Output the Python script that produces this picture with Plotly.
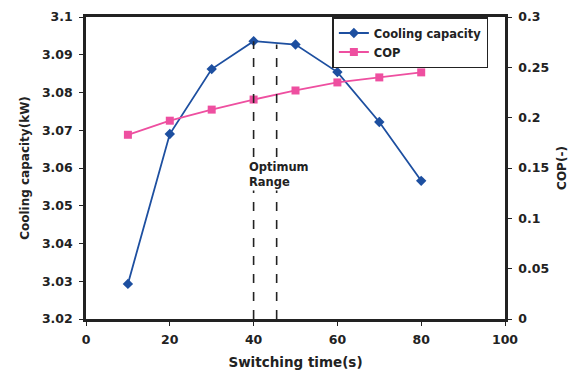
import plotly.graph_objects as go

switching_time = [10, 20, 30, 40, 50, 60, 70, 80]
cooling_capacity = [3.0293, 3.0690, 3.0862, 3.0936, 3.0927, 3.0854, 3.0722, 3.0566]
cop = [0.183, 0.197, 0.208, 0.218, 0.227, 0.235, 0.240, 0.245]
x_ticks = [0, 20, 40, 60, 80, 100]
y_ticks = [3.02, 3.03, 3.04, 3.05, 3.06, 3.07, 3.08, 3.09, 3.1]
y2_ticks = [0, 0.05, 0.1, 0.15, 0.2, 0.25, 0.3]
optimum_range = [40, 45.5]

font = "DejaVu Sans, sans-serif"
ink = "#222222"

fig = go.Figure()
fig.add_trace(go.Scatter(
    x=switching_time, y=cooling_capacity, name="<b>Cooling capacity</b>",
    mode="lines+markers", line=dict(color="#1d4fa0", width=1.8),
    marker=dict(symbol="diamond", size=8, color="#1d4fa0"), yaxis="y"))
fig.add_trace(go.Scatter(
    x=switching_time, y=cop, name="<b>COP</b>",
    mode="lines+markers", line=dict(color="#ee4fa0", width=1.8),
    marker=dict(symbol="square", size=8, color="#ee4fa0"), yaxis="y2"))

for xv, top in zip(optimum_range, [cooling_capacity[3], cooling_capacity[4]]):
    fig.add_shape(type="line", x0=xv, x1=xv, y0=3.02, y1=top, xref="x", yref="y",
                  line=dict(color=ink, width=1.6, dash="dash"))

fig.add_annotation(x=38.4, y=3.0584, xref="x", yref="y", xanchor="left", yanchor="middle",
                   text="<b>Optimum</b><br><b>Range</b>", showarrow=False, align="left",
                   bgcolor="white", borderpad=1,
                   font=dict(family=font, size=11.5, color=ink))

axis_common = dict(showgrid=False, zeroline=False, ticks="outside", ticklen=4,
                   tickcolor=ink, tickwidth=1, automargin=False,
                   tickfont=dict(family=font, size=12.5, color=ink),
                   showline=True, linecolor=ink, linewidth=2.5)

fig.update_layout(
    width=568, height=363,
    margin=dict(l=78, r=71, t=9, b=52),
    paper_bgcolor="white", plot_bgcolor="white",
    font=dict(family=font, color=ink),
    xaxis=dict(range=[0, 100], tickvals=x_ticks, ticktext=[f"<b>{v}</b>" for v in x_ticks],
               mirror=True, ticklabelstandoff=3,
               title=dict(text="<b>Switching time(s)</b>", font=dict(size=13.5), standoff=12),
               **axis_common),
    yaxis=dict(range=[3.02, 3.1], tickvals=y_ticks, ticktext=[f"<b>{v:g}</b>" for v in y_ticks],
               ticklabelstandoff=4,
               title=dict(text="<b>Cooling capacity(kW)</b>", font=dict(size=12), standoff=10),
               **axis_common),
    yaxis2=dict(range=[0, 0.3], tickvals=y2_ticks, ticktext=[f"<b>{v:g}</b>" for v in y2_ticks],
                overlaying="y", side="right", ticklabelstandoff=4,
                title=dict(text="<b>COP(-)</b>", font=dict(size=12), standoff=10),
                **axis_common),
    legend=dict(x=0.588, y=1.0, xanchor="left", yanchor="top",
                bordercolor=ink, borderwidth=1.5, bgcolor="white",
                font=dict(family=font, size=11.5, color=ink),
                tracegroupgap=0, itemwidth=30),
    showlegend=True,
)

fig.write_html("out.html")
